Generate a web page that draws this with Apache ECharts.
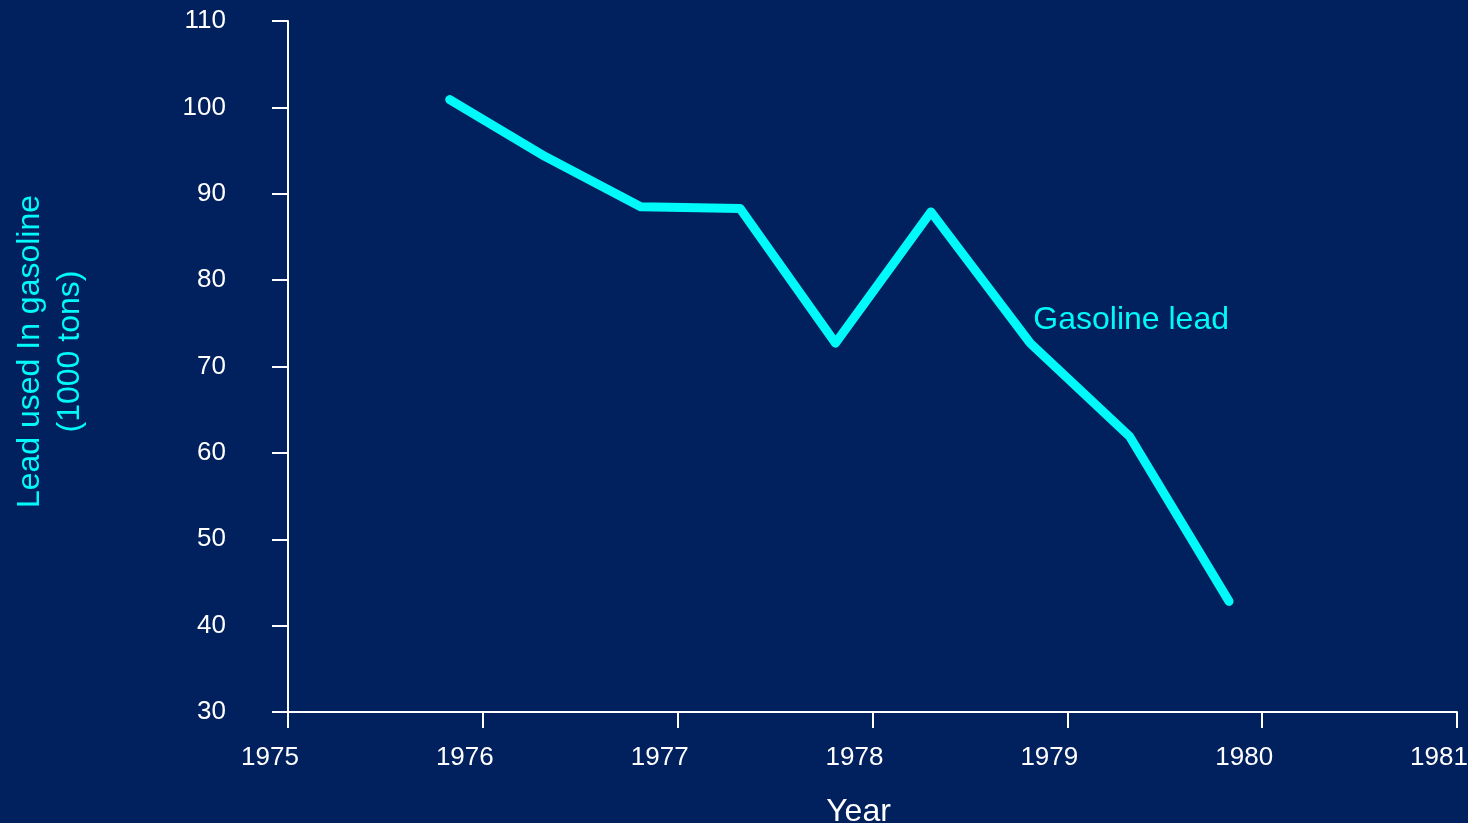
<!DOCTYPE html>
<html>
<head>
<meta charset="utf-8">
<script src="https://cdn.jsdelivr.net/npm/echarts@6/dist/echarts.min.js"></script>
<style>
html,body{margin:0;padding:0;background:#00205E;}
#c{width:1468px;height:823px;}
</style>
</head>
<body>
<div id="c"></div>
<script>
const years = [1975.83, 1976.32, 1976.81, 1977.32, 1977.81, 1978.30, 1978.81, 1979.32, 1979.83];
const lead = [100.9, 94.3, 88.5, 88.3, 72.7, 87.9, 72.7, 61.9, 42.8];
const seriesName = 'Gasoline lead';
const xTicks = [1975, 1976, 1977, 1978, 1979, 1980, 1981];
const yTicks = [30, 40, 50, 60, 70, 80, 90, 100, 110];

const chart = echarts.init(document.getElementById('c'));
const font = '"Liberation Sans", Arial, sans-serif';
const white = '#FFFFFF';
const cyan = '#00FAFA';
chart.setOption({
  backgroundColor: '#00205E',
  animation: false,
  grid: {left: 288, right: 11, top: 21, bottom: 111, containLabel: false, outerBoundsMode: 'none'},
  xAxis: {
    type: 'value',
    min: xTicks[0], max: xTicks[xTicks.length - 1], interval: 1,
    name: 'Year', nameLocation: 'middle', nameGap: 84,
    nameTextStyle: {color: white, fontSize: 32, fontFamily: font, padding: [0, 28, 0, 0]},
    axisLine: {show: true, lineStyle: {color: white, width: 2}},
    axisTick: {show: true, length: 16, lineStyle: {color: white, width: 2}},
    axisLabel: {color: white, fontSize: 26, fontFamily: font, margin: 33,
      padding: [0, 36, 0, 0],
      formatter: v => String(v)},
    splitLine: {show: false}
  },
  yAxis: {
    type: 'value',
    min: yTicks[0], max: yTicks[yTicks.length - 1], interval: 10,
    name: 'Lead used In gasoline\n(1000 tons)', nameLocation: 'middle', nameGap: 198,
    nameRotate: 90,
    nameTextStyle: {color: cyan, fontSize: 32, fontFamily: font, lineHeight: 40, padding: [0, 0, 0, 30]},
    axisLine: {show: true, lineStyle: {color: white, width: 2}},
    axisTick: {show: true, length: 16, lineStyle: {color: white, width: 2}},
    axisLabel: {color: white, fontSize: 26, fontFamily: font, margin: 62},
    splitLine: {show: false}
  },
  series: [{
    name: seriesName,
    type: 'line',
    data: years.map((y, i) => [y, lead[i]]),
    symbol: 'none',
    lineStyle: {color: cyan, width: 9, cap: 'round', join: 'round'},
    markPoint: {
      symbol: 'circle', symbolSize: 0,
      data: [{coord: [years[6], lead[6]], value: seriesName}],
      label: {show: true, position: 'right', formatter: seriesName,
        color: cyan, fontSize: 32, fontFamily: font, offset: [-2, -23]}
    }
  }]
});
</script>
</body>
</html>
